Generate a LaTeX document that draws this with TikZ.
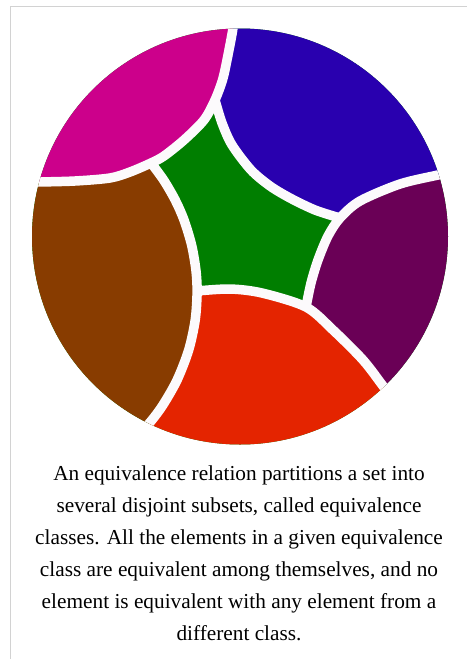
\documentclass[tikz,border=0pt]{standalone}
\usepackage{fontspec}
\setmainfont{Liberation Serif}
\definecolor{cmag}{RGB}{204,0,139}
\definecolor{cblue}{RGB}{41,0,175}
\definecolor{cgreen}{RGB}{0,126,0}
\definecolor{cpurple}{RGB}{106,0,86}
\definecolor{cbrown}{RGB}{136,60,0}
\definecolor{cred}{RGB}{228,36,0}
\definecolor{gapwhite}{RGB}{252,250,252}
\definecolor{framegray}{RGB}{210,210,210}
\begin{document}
\begin{tikzpicture}[x=1pt,y=-1pt,
  gap/.style={draw=gapwhite, line width=9.5pt, line cap=butt},
  caption/.style={align=center, font=\fontsize{21.3}{31.9}\selectfont, inner sep=0pt}]
\useasboundingbox (0,0) rectangle (467,659);
\fill[white] (0,0) rectangle (467,659);
\draw[framegray, line width=1pt] (10,659) -- (10,6) -- (467,6);
\begin{scope}
\clip (240,236.5) circle (208pt);
\fill[cgreen] (240,236.5) circle (212pt);
% magenta
\fill[cmag] plot[smooth] coordinates {(234,10) (233,28) (227,60) (222.5,80) (215,100) (204,120) (184,140) (164,156) (151,163) (130,172) (110,178) (75,181) (37,182) (15,182)}
  -- (0,182) -- (0,0) -- (234,0) -- cycle;
% blue
\fill[cblue] (234,0) -- plot[smooth] coordinates {(234,10) (233,28) (227,60) (222.5,80) (215,100)}
  -- plot[smooth] coordinates {(215,100) (222,123) (232,145) (251,170) (270,186) (290,198) (315,210) (340,218)}
  -- plot[smooth] coordinates {(340,218) (360,201) (400,184) (438,175) (456,171)}
  -- (467,170) -- (467,0) -- cycle;
% purple
\fill[cpurple] plot[smooth] coordinates {(456,171) (438,175) (400,184) (360,201) (340,218) (328,236) (318,260) (311,283) (306,307)}
  -- plot[smooth] coordinates {(306,307) (333,330) (363,360) (383,386) (395,402)}
  -- (467,467) -- (467,171) -- cycle;
% red
\fill[cred] plot[smooth] coordinates {(197,290) (230,289) (262,293) (306,307) (333,330) (363,360) (383,386) (395,402)}
  -- (467,467) -- (467,659) -- (100,659) -- (133.5,440)
  -- plot[smooth] coordinates {(133.5,440) (150.3,422) (162.9,405) (177.1,380) (188.7,350) (195.2,320) (197.1,292)} -- cycle;
% brown
\fill[cbrown] plot[smooth] coordinates {(15,182) (37,182) (75,181) (110,178) (130,172) (151,163)}
  -- plot[smooth] coordinates {(151.1,163) (163.6,180) (175.2,200) (184,220) (191.6,245) (195.9,270) (197.1,292) (195.2,320) (188.7,350) (177.1,380) (162.9,405) (150.3,422) (133.5,440)}
  -- (100,659) -- (0,659) -- (0,182) -- cycle;
% white gaps
\draw[gap] plot[smooth] coordinates {(234,10) (233,28) (227,60) (222.5,80) (215,100) (204,120) (184,140) (164,156) (151,163) (130,172) (110,178) (75,181) (37,182) (15,182)};
\draw[gap] plot[smooth] coordinates {(151.1,163) (163.6,180) (175.2,200) (184,220) (191.6,245) (195.9,270) (197.1,292) (195.2,320) (188.7,350) (177.1,380) (162.9,405) (150.3,422) (133.5,440)};
\draw[gap] plot[smooth] coordinates {(197,291) (230,289) (262,293) (306,307) (333,330) (363,360) (383,386) (395,402)};
\draw[gap] plot[smooth] coordinates {(456,171) (438,175) (400,184) (360,201) (340,218) (328,236) (318,260) (311,283) (306,307)};
\draw[gap] plot[smooth] coordinates {(215,100) (222,123) (232,145) (251,170) (270,186) (290,198) (315,210) (340,218)};
\end{scope}
\node[caption, anchor=base] (cap) at (239,640) {An equivalence relation partitions a set into\\
several disjoint subsets, called equivalence\\
classes. All the elements in a given equivalence\\
class are equivalent among themselves, and no\\
element is equivalent with any element from a\\
different class.};
\end{tikzpicture}
\end{document}
